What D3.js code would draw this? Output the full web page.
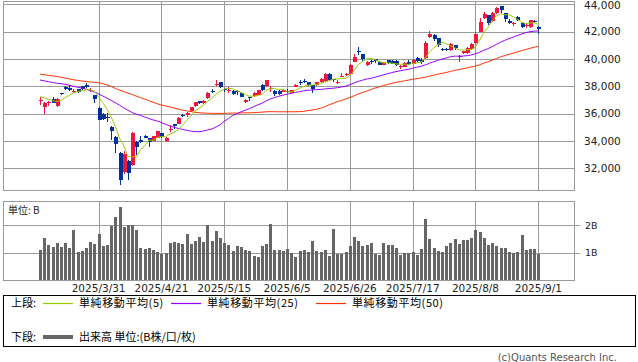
<!DOCTYPE html>
<html><head><meta charset="utf-8">
<script src="https://cdn.jsdelivr.net/npm/d3@7"></script>
<style>body{margin:0;background:#fff;}svg{display:block;}</style>
</head><body><svg id="c" width="638" height="362"></svg>
<script>
const dates = ["2025/3/10","2025/3/11","2025/3/12","2025/3/13","2025/3/14","2025/3/17","2025/3/18","2025/3/19","2025/3/21","2025/3/24","2025/3/25","2025/3/26","2025/3/27","2025/3/28","2025/3/31",
"2025/4/1","2025/4/2","2025/4/3","2025/4/4","2025/4/7","2025/4/8","2025/4/9","2025/4/10","2025/4/11","2025/4/14","2025/4/15","2025/4/16","2025/4/17","2025/4/18","2025/4/21","2025/4/22","2025/4/23","2025/4/24","2025/4/25","2025/4/28","2025/4/30",
"2025/5/1","2025/5/2","2025/5/7","2025/5/8","2025/5/9","2025/5/12","2025/5/13","2025/5/14","2025/5/15","2025/5/16","2025/5/19","2025/5/20","2025/5/21","2025/5/22","2025/5/23","2025/5/26","2025/5/27","2025/5/28","2025/5/29","2025/5/30",
"2025/6/2","2025/6/3","2025/6/4","2025/6/5","2025/6/6","2025/6/9","2025/6/10","2025/6/11","2025/6/12","2025/6/13","2025/6/16","2025/6/17","2025/6/18","2025/6/19","2025/6/20","2025/6/23","2025/6/24","2025/6/25","2025/6/26","2025/6/27","2025/6/30",
"2025/7/1","2025/7/2","2025/7/3","2025/7/4","2025/7/7","2025/7/8","2025/7/9","2025/7/10","2025/7/11","2025/7/14","2025/7/15","2025/7/16","2025/7/17","2025/7/18","2025/7/22","2025/7/23","2025/7/24","2025/7/25","2025/7/28","2025/7/29","2025/7/30","2025/7/31",
"2025/8/1","2025/8/4","2025/8/5","2025/8/6","2025/8/7","2025/8/8","2025/8/12","2025/8/13","2025/8/14","2025/8/15","2025/8/18","2025/8/19","2025/8/20","2025/8/21","2025/8/22","2025/8/25","2025/8/26","2025/8/27","2025/8/28","2025/8/29",
"2025/9/1"];

const open = [36950,36510,36725,37050,36560,37490,37920,37880,37580,37780,
38000,38120,37720,37360,36430,36000,35770,35050,34300,33100,
31700,32560,32260,33950,34100,34390,34215,34020,34240,34580,
34020,34800,35220,35290,35920,35880,36140,36560,36900,36800,
37165,37680,38100,38280,37800,37700,37660,37620,37530,36870,
37200,37240,37380,38100,37970,37850,37650,37650,37600,37650,
37530,37970,38290,38420,38290,38100,38100,38290,38340,38900,
38510,38265,38750,38825,38950,39800,40560,40360,39560,39830,
39975,39800,39570,39924,39850,39870,39400,39440,39800,39630,
40050,39900,40050,41630,41750,41500,40700,40720,40660,41020,
40130,40415,40415,40710,41150,41995,42975,43217,42800,43340,
43850,43340,42800,42600,43050,42655,42450,42315,42800,42360];

const high = [37250,36870,36950,37240,37150,37520,38020,38070,37820,37800,
38050,38220,37880,37400,36450,36050,36080,35100,34400,33180,
33280,32600,34650,33990,34360,34420,34250,34400,34760,34600,
34280,35170,35250,35780,35980,36100,36480,36880,36950,37000,
37560,37800,38460,38300,37900,37950,37700,37750,37560,37080,
37250,37550,37760,38150,38480,38050,37700,37700,37780,37780,
37760,38150,38450,38500,38320,38120,38350,38600,38950,38950,
38550,38450,39000,38980,39600,40400,40850,40400,39880,39900,
40000,39850,39760,39960,39900,39900,39550,39760,39950,40000,
40150,40100,41300,42065,41800,41550,40800,40800,41200,41050,
40300,40600,40850,41150,41950,43000,43450,43250,43450,43800,
43876,43400,42950,42700,43150,42700,42600,42850,42850,42400];

const low = [36650,35990,36530,36750,36500,37330,37730,37670,37510,37500,
37700,37900,37600,36800,35500,35500,35400,34100,33150,30790,
31600,31136,32200,33000,33830,34200,33580,33950,34200,34220,
33950,34680,34900,35250,35720,35760,36100,36500,36700,36700,
37100,37480,38000,37900,37600,37500,37400,37400,37200,36800,
36950,37200,37350,37650,37950,37600,37300,37350,37550,37500,
37500,37950,38100,38250,38000,37500,38050,38250,38300,38400,
38300,38150,38700,38750,38900,39750,40300,39850,39460,39650,
39700,39550,39550,39650,39600,39500,39250,39400,39550,39600,
39700,39600,40000,41550,41300,40900,40550,40550,40600,40650,
39800,40380,40380,40650,41100,41950,42900,42500,42700,43300,
43400,42700,42550,42400,42750,42300,42250,42300,42600,41835];

const close = [37028,36793,36819,36790,37053,37396,37780,37700,37677,37530,
37780,38000,37760,37100,35560,35600,35700,34735,33780,31136,
33012,31714,34609,33585,33982,34267,33920,34377,34730,34279,
34220,34868,35039,35705,35839,36045,36452,36830,36779,36928,
37503,37600,38183,37950,37755,37753,37450,37529,37250,37000,
37120,37490,37724,37700,38432,37900,37400,37420,37747,37560,
37741,38088,38200,38320,38060,37780,38311,38536,38885,38488,
38403,38340,38790,38900,39584,40150,40487,39986,39800,39760,
39810,39587,39700,39700,39646,39569,39460,39700,39663,39950,
39800,39774,41171,41826,41456,40998,40650,40654,41069,40799,
40200,40549,40794,41059,41820,42718,43274,42649,43378,43714,
43546,42888,42650,42633,42807,42394,42520,42828,42718,42188];

const ma5 = [37240,37165,37050,36945,36897,36970,37168,37344,37521,37617,
37693,37737,37749,37634,37240,36804,36344,35739,35075,34190,
33673,32875,32850,32811,33380,33631,34073,34026,34255,34315,
34305,34495,34627,34822,35134,35499,35816,36174,36389,36607,
36898,37128,37399,37633,37798,37848,37818,37687,37547,37396,
37270,37278,37317,37407,37693,37849,37831,37770,37780,37605,
37574,37711,37867,37982,38082,38090,38134,38201,38314,38400,
38525,38530,38581,38584,38803,39153,39582,39821,40001,40037,
39969,39789,39731,39711,39689,39640,39615,39615,39608,39668,
39715,39777,40072,40504,40805,41045,41220,41117,40965,40834,
40674,40654,40682,40680,40884,41388,41933,42304,42768,43147,
43312,43235,43235,43086,42905,42674,42601,42636,42653,42530];

const ma25 = [38460,38400,38340,38280,38230,38190,38150,38080,38000,37930,
37870,37790,37700,37580,37440,37290,37130,36960,36800,36620,
36420,36250,36080,35960,35865,35754,35639,35542,35459,35348,
35221,35105,34998,34920,34852,34782,34721,34683,34671,34725,
34801,34877,35015,35182,35447,35636,35866,35983,36129,36250,
36364,36507,36641,36760,36926,37073,37174,37269,37351,37420,
37488,37553,37608,37670,37715,37726,37755,37769,37806,37835,
37861,37897,37947,38013,38117,38238,38358,38448,38532,38585,
38662,38749,38841,38919,39002,39075,39130,39190,39244,39319,
39400,39459,39564,39682,39800,39904,39997,40071,40158,40207,
40209,40211,40243,40294,40376,40492,40640,40758,40905,41068,
41227,41364,41482,41601,41715,41819,41929,41995,42031,42060];

const ma50 = [38900,38850,38800,38770,38720,38660,38600,38540,38480,38430,
38390,38350,38320,38290,38260,38200,38100,37980,37850,37720,
37620,37500,37400,37280,37170,37060,36950,36830,36720,36630,
36560,36490,36420,36330,36260,36200,36150,36100,36070,36040,
36030,36020,36020,36020,36020,36030,36040,36040,36050,36057,
36059,36073,36091,36109,36137,36147,36140,36134,36135,36136,
36135,36137,36146,36170,36220,36264,36316,36392,36494,36641,
36749,36881,36965,37071,37183,37301,37432,37545,37646,37756,
37867,37962,38055,38135,38211,38282,38342,38399,38457,38517,
38563,38607,38666,38744,38818,38883,38947,39009,39086,39162,
39223,39284,39346,39413,39481,39577,39695,39799,39912,40035,
40151,40247,40336,40422,40517,40610,40694,40780,40856,40930];

const volume = [1.11,1.55,1.29,1.23,1.35,1.21,1.35,1.19,1.83,1.04,
1.08,1.19,1.38,1.32,1.68,1.26,1.29,1.97,2.30,2.66,
1.94,2.01,2.01,1.84,1.19,1.15,1.19,1.11,1.02,0.97,
1.00,1.36,1.39,1.36,1.32,1.70,1.32,1.44,1.58,1.39,
2.01,1.43,1.79,1.55,1.36,1.29,1.08,1.25,1.21,1.11,
1.07,0.90,0.85,1.25,1.32,2.05,1.12,1.12,1.07,1.14,
1.00,0.85,1.07,1.11,1.03,1.43,1.07,1.02,1.10,0.90,
1.87,0.97,0.97,1.02,1.26,1.58,1.43,1.26,1.29,1.36,
0.97,0.92,1.36,1.29,1.29,1.19,0.92,1.00,1.00,1.02,
0.92,1.14,2.23,1.50,1.19,1.07,1.02,1.26,1.36,1.50,
1.33,1.47,1.47,1.54,1.83,1.76,1.54,1.29,1.35,1.25,
1.19,1.19,1.03,1.00,1.03,1.65,1.10,1.14,1.14,0.96];

const xTickLabels = ["2025/3/31","2025/4/21","2025/5/15","2025/6/5","2025/6/26","2025/7/17","2025/8/8","2025/9/1"];
const priceTicks = [32000,34000,36000,38000,40000,42000,44000];
const volTicks = [1,2];
const volTickLabels = ["1B","2B"];
const legendItems = ["単純移動平均(5)","単純移動平均(25)","単純移動平均(50)"];

const UP = "#f0163e", DOWN = "#003399", GRID = "#9a9a9a";
const C5 = "#99cc00", C25 = "#9900ff", C50 = "#ff3300";
const NUMFONT = "'DejaVu Sans', Verdana, sans-serif";
const JPFONT = "'Noto Sans CJK JP', sans-serif";

const svg = d3.select("#c");
svg.append("rect").attr("width",638).attr("height",362).attr("fill","#fff");

const L = 3.5, R = 574.5, T1 = 1.5, B1 = 190.5, T2 = 201.5, B2 = 280.5;
const idx = d3.range(dates.length);
const x = d3.scaleLinear().domain([0, dates.length - 1]).range([40, 538.3]);
const yP = d3.scaleLinear().domain([32000, 44000]).range([168.3, 4.3]);
const yV = d3.scaleLinear().domain([0, 2]).range([280.5, 225.3]);
const px = v => Math.round(v) + 0.5;
const tickIdx = xTickLabels.map(t => dates.indexOf(t));

// ---------- main panel ----------
const g = svg.append("g").attr("shape-rendering","crispEdges");
g.selectAll(".hg").data(priceTicks).join("line")
  .attr("x1",L).attr("x2",R).attr("y1",d=>px(yP(d))).attr("y2",d=>px(yP(d)))
  .attr("stroke",GRID).attr("stroke-width",1);
g.selectAll(".vg").data(tickIdx).join("line")
  .attr("x1",d=>px(x(d))).attr("x2",d=>px(x(d))).attr("y1",T1).attr("y2",B1)
  .attr("stroke",GRID).attr("stroke-width",1);
g.append("rect").attr("x",L).attr("y",T1).attr("width",R-L).attr("height",B1-T1)
  .attr("fill","none").attr("stroke",GRID);

svg.append("defs").append("clipPath").attr("id","clipM")
  .append("rect").attr("x",L).attr("y",T1).attr("width",R-L).attr("height",B1-T1);
const gc = svg.append("g").attr("clip-path","url(#clipM)");

const cg = gc.append("g").attr("shape-rendering","crispEdges");
cg.selectAll(".wick").data(idx).join("line")
  .attr("x1",i=>px(x(i))).attr("x2",i=>px(x(i)))
  .attr("y1",i=>yP(high[i])).attr("y2",i=>yP(low[i]))
  .attr("stroke",i=>close[i]>=open[i]?UP:DOWN).attr("stroke-width",1);
cg.selectAll(".body").data(idx).join("rect")
  .attr("x",i=>Math.round(x(i))-1.5).attr("width",4)
  .attr("y",i=>Math.round(yP(Math.max(open[i],close[i]))))
  .attr("height",i=>Math.max(1,Math.round(Math.abs(yP(open[i])-yP(close[i])))))
  .attr("fill",i=>close[i]>=open[i]?UP:DOWN);

const line = arr => d3.line().x((d,i)=>x(i)).y(d=>yP(d))(arr);
[[ma50,C50],[ma25,C25],[ma5,C5]].forEach(([arr,col])=>{
  gc.append("path").attr("d",line(arr)).attr("fill","none").attr("stroke",col).attr("stroke-width",1);
});

svg.selectAll(".pl").data(priceTicks).join("text")
  .attr("x",584).attr("y",d=>Math.max(yP(d),5.6)).attr("dy","0.36em")
  .attr("font-family",NUMFONT).attr("font-size",10.5).attr("fill","#222")
  .text(d=>d3.format(",")(d));

// ---------- volume panel ----------
const gv = svg.append("g").attr("shape-rendering","crispEdges");
gv.selectAll(".vhg").data(volTicks).join("line")
  .attr("x1",L).attr("x2",R+5).attr("y1",d=>px(yV(d))).attr("y2",d=>px(yV(d)))
  .attr("stroke",GRID);
gv.selectAll(".vvg").data(tickIdx).join("line")
  .attr("x1",d=>px(x(d))).attr("x2",d=>px(x(d))).attr("y1",T2).attr("y2",B2)
  .attr("stroke",GRID);
gv.selectAll(".vb").data(idx).join("rect")
  .attr("x",i=>Math.round(x(i))-1).attr("width",3)
  .attr("y",i=>Math.round(yV(volume[i]))).attr("height",i=>Math.round(yV(0))-Math.round(yV(volume[i])))
  .attr("fill","#666");
gv.append("rect").attr("x",L).attr("y",T2).attr("width",R-L).attr("height",B2-T2)
  .attr("fill","none").attr("stroke",GRID);
svg.selectAll(".vl").data(volTicks).join("text")
  .attr("x",585).attr("y",d=>yV(d)).attr("dy","0.36em")
  .attr("font-family",NUMFONT).attr("font-size",9.5).attr("fill","#222")
  .text((d,i)=>volTickLabels[i]);
svg.append("text").attr("x",8).attr("y",214).attr("font-family",JPFONT).attr("font-size",10)
  .attr("fill","#222").text("単位: B");

svg.selectAll(".xl").data(tickIdx).join("text")
  .attr("x",d=>x(d)).attr("y",292).attr("text-anchor","middle")
  .attr("font-family",NUMFONT).attr("font-size",10.5).attr("fill","#222")
  .text((d,i)=>xTickLabels[i]);

// ---------- legend ----------
const lg = svg.append("g");
lg.append("rect").attr("x",3.5).attr("y",295.5).attr("width",632).attr("height",50.5)
  .attr("fill","none").attr("stroke","#000").attr("shape-rendering","crispEdges");
const ly1 = 303, ly2 = 337;
lg.append("text").attr("x",11).attr("y",ly1).attr("dy","0.36em").attr("font-family",JPFONT).attr("font-size",11).text("上段:");
const legX = [[43,79],[171,207],[316,352]];
const legC = [C5,C25,C50];
legendItems.forEach((t,k)=>{
  lg.append("line").attr("x1",legX[k][0]).attr("x2",legX[k][0]+30).attr("y1",ly1+0.5).attr("y2",ly1+0.5)
    .attr("stroke",legC[k]).attr("stroke-width",1.2);
  lg.append("text").attr("x",legX[k][1]).attr("y",ly1).attr("dy","0.36em")
    .attr("font-family",JPFONT).attr("font-size",11).attr("letter-spacing",0.6).text(t);
});
lg.append("text").attr("x",11).attr("y",ly2).attr("dy","0.36em").attr("font-family",JPFONT).attr("font-size",11).text("下段:");
lg.append("line").attr("x1",43).attr("x2",73).attr("y1",ly2).attr("y2",ly2).attr("stroke","#666").attr("stroke-width",4);
lg.append("text").attr("x",79).attr("y",ly2).attr("dy","0.36em").attr("font-family",JPFONT).attr("font-size",11).text("出来高 単位:(B株/口/枚)");

svg.append("text").attr("x",617).attr("y",357).attr("dy","0.36em").attr("text-anchor","end")
  .attr("font-family",NUMFONT).attr("font-size",10).attr("fill","#555").text("(c)Quants Research Inc.");
</script></body></html>
